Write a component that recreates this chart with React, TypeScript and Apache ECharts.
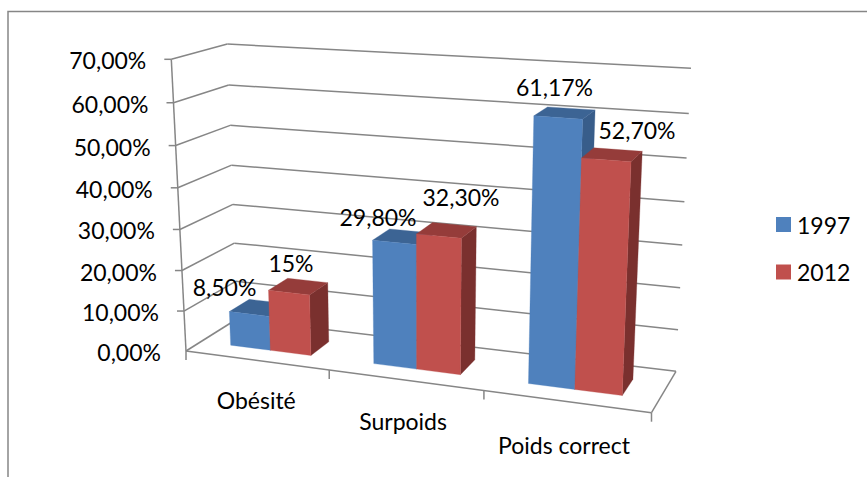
import React, { useEffect, useRef } from "react";
import * as echarts from "echarts";

const categories = ["Obésité", "Surpoids", "Poids correct"];
const seriesNames = ["1997", "2012"];
const values1997 = [8.5, 29.8, 61.17];
const values2012 = [15, 32.3, 52.7];
const labels1997 = ["8,50%", "29,80%", "61,17%"];
const labels2012 = ["15%", "32,30%", "52,70%"];
const yTicks = [0, 10, 20, 30, 40, 50, 60, 70];
const yTickLabels = ["0,00%", "10,00%", "20,00%", "30,00%", "40,00%", "50,00%", "60,00%", "70,00%"];

// Layout of the 867x477 picture
const W = 867;
const H = 477;
const FONT = "23px Lato";
const AXIS_COLOR = "#868686";
const BLUE = { front: "#4f81bd", top: "#3c6494", side: "#385d8a" };
const RED = { front: "#c0504d", top: "#953c3a", side: "#7a302e" };
// Screen corners of the 3D box: [Front|Back][Low|High][Left|Right]
const FLL = [186, 351], FLR = [651.5, 412.7], BLL = [237, 319], BLR = [676, 371.3];
const FHL = [171.3, 59.3], FHR = [665, 90], BHL = [227.3, 44], BHR = [691, 68.3];
const PERSPECTIVE_X = 1.125;
const PERSPECTIVE_Y = 1.05;
const BAR_SPAN = 0.285;
const Z_FRONT = 0.3;
const Z_BACK = 0.7;
const LABEL_CENTRES = [
  [[224.5, 287], [378, 217], [554.5, 87]],
  [[291, 263], [461, 197], [637, 130]],
];
const CAT_LABEL_SHIFT = [[0, 40], [-2, 41], [-2, 44]];

const lerp = (a: number, b: number, t: number) => a + (b - a) * t;
const lerp2 = (a: number[], b: number[], t: number) => [lerp(a[0], b[0], t), lerp(a[1], b[1], t)];

function project(u: number, v: number, z: number): number[] {
  const w = u / (u + PERSPECTIVE_X * (1 - u));
  const h = v / (v + PERSPECTIVE_Y * (1 - v));
  const low = lerp2(lerp2(FLL, FLR, w), lerp2(BLL, BLR, w), z);
  const high = lerp2(lerp2(FHL, FHR, w), lerp2(BHL, BHR, w), z);
  return lerp2(low, high, h);
}

// Reads the library's scales (full-page hidden grid) into unit coordinates
function unit(api: any, cat: number, val: number) {
  const p = api.coord([cat, val]);
  return [p[0] / W, 1 - p[1] / H];
}

const line = (a: number[], b: number[]) => ({
  type: "line",
  shape: { x1: a[0], y1: a[1], x2: b[0], y2: b[1] },
  style: { stroke: AXIS_COLOR, lineWidth: 1.5, fill: "none" },
  silent: true,
});
const text = (t: string, x: number, y: number, align = "center") => ({
  type: "text",
  silent: true,
  style: { text: t, x, y, fill: "#000", font: FONT, textAlign: align, textVerticalAlign: "middle" },
});
const face = (pts: number[][], fill: string) => ({
  type: "polygon",
  silent: true,
  shape: { points: pts },
  style: { fill, stroke: fill, lineWidth: 0.3 },
});

function renderTick(_: any, api: any) {
  const i = _.dataIndex;
  const [, v] = unit(api, 0, api.value(1));
  const a = project(0, v, 0);
  const b = project(0, v, 1);
  const c = project(1, v, 1);
  const children: any[] = [
    line(a, b),
    line(b, c),
    text(yTickLabels[i], a[0] - 25, a[1] + 1, "right"),
  ];
  if (i > 0) children.push(line([a[0] - 7, a[1]], a));
  if (i === 0) {
    children.push(line(project(0, 0, 0), project(1, 0, 0)));
    children.push(line(project(1, 0, 0), project(1, 0, 1)));
    children.push(line(project(0, 0, 0), project(0, 1, 0)));
    children.push(line(project(1, 0, 0), [project(1, 0, 0)[0], project(1, 0, 0)[1] + 9]));
  }
  return { type: "group", children };
}

function renderCategory(params: any, api: any) {
  const i = params.dataIndex;
  const [u] = unit(api, api.value(0), 0);
  const band = api.size([1, 0])[0] / W;
  const start = project(u - band / 2, 0, 0);
  const mid = project(u, 0, 0);
  const s = CAT_LABEL_SHIFT[i];
  return {
    type: "group",
    children: [
      line(start, [start[0], start[1] + 9]),
      text(categories[i], mid[0] + s[0], mid[1] + s[1]),
    ],
  };
}

const renderBars = (seriesIndex: number, labels: string[], c: typeof BLUE) => (params: any, api: any) => {
  const i = params.dataIndex;
  const [uc, v] = unit(api, api.value(0), api.value(1));
  const band = api.size([1, 0])[0] / W;
  const u0 = seriesIndex === 0 ? uc - BAR_SPAN * band : uc;
  const u1 = seriesIndex === 0 ? uc : uc + BAR_SPAN * band;
  const fbl = project(u0, 0, Z_FRONT), fbr = project(u1, 0, Z_FRONT);
  const ftl = project(u0, v, Z_FRONT), ftr = project(u1, v, Z_FRONT);
  const bbr = project(u1, 0, Z_BACK);
  const btl = project(u0, v, Z_BACK), btr = project(u1, v, Z_BACK);
  const centre = LABEL_CENTRES[seriesIndex][i];
  return {
    type: "group",
    children: [
      face([ftr, btr, bbr, fbr], c.side),
      face([ftl, btl, btr, ftr], c.top),
      face([fbl, fbr, ftr, ftl], c.front),
      { ...text(labels[i], centre[0], centre[1]), z2: 10 },
    ],
  };
};

export default function App() {
  const ref = useRef<HTMLDivElement>(null);
  useEffect(() => {
    document.body.style.margin = "0";
    const chart = echarts.init(ref.current!, undefined, { renderer: "svg" });
    chart.setOption({
      animation: false,
      backgroundColor: "#ffffff",
      grid: { left: 0, top: 0, width: W, height: H, containLabel: false },
      xAxis: { type: "category", data: categories, show: false },
      yAxis: { type: "value", min: 0, max: 70, interval: 10, show: false },
      legend: {
        orient: "vertical",
        left: 776,
        top: 213,
        padding: 0,
        data: seriesNames,
        icon: "rect",
        itemWidth: 15,
        itemHeight: 15,
        itemGap: 24.5,
        textStyle: { fontFamily: "Lato", fontSize: 23, color: "#000", padding: [0, 0, 0, 1] },
        selectedMode: false,
      },
      graphic: [
        {
          type: "polyline",
          shape: { points: [[8, H], [8, 11.5], [W, 11.5]] },
          style: { stroke: AXIS_COLOR, lineWidth: 1.5, fill: "none" },
          silent: true,
        },
      ],
      series: [
        {
          name: "ticks",
          type: "custom",
          coordinateSystem: "cartesian2d",
          data: yTicks.map((t) => [0, t]),
          renderItem: renderTick,
          silent: true,
          clip: false,
        },
        {
          name: "categories",
          type: "custom",
          coordinateSystem: "cartesian2d",
          data: categories.map((_, i) => [i, 0]),
          renderItem: renderCategory,
          silent: true,
          clip: false,
        },
        {
          name: seriesNames[0],
          type: "custom",
          coordinateSystem: "cartesian2d",
          itemStyle: { color: BLUE.front },
          data: values1997.map((v, i) => [i, v]),
          renderItem: renderBars(0, labels1997, BLUE),
          silent: true,
          clip: false,
        },
        {
          name: seriesNames[1],
          type: "custom",
          coordinateSystem: "cartesian2d",
          itemStyle: { color: RED.front },
          data: values2012.map((v, i) => [i, v]),
          renderItem: renderBars(1, labels2012, RED),
          silent: true,
          clip: false,
        },
      ],
    });
    return () => chart.dispose();
  }, []);
  return <div ref={ref} style={{ width: W, height: H, position: "absolute", left: 0, top: 0 }} />;
}
